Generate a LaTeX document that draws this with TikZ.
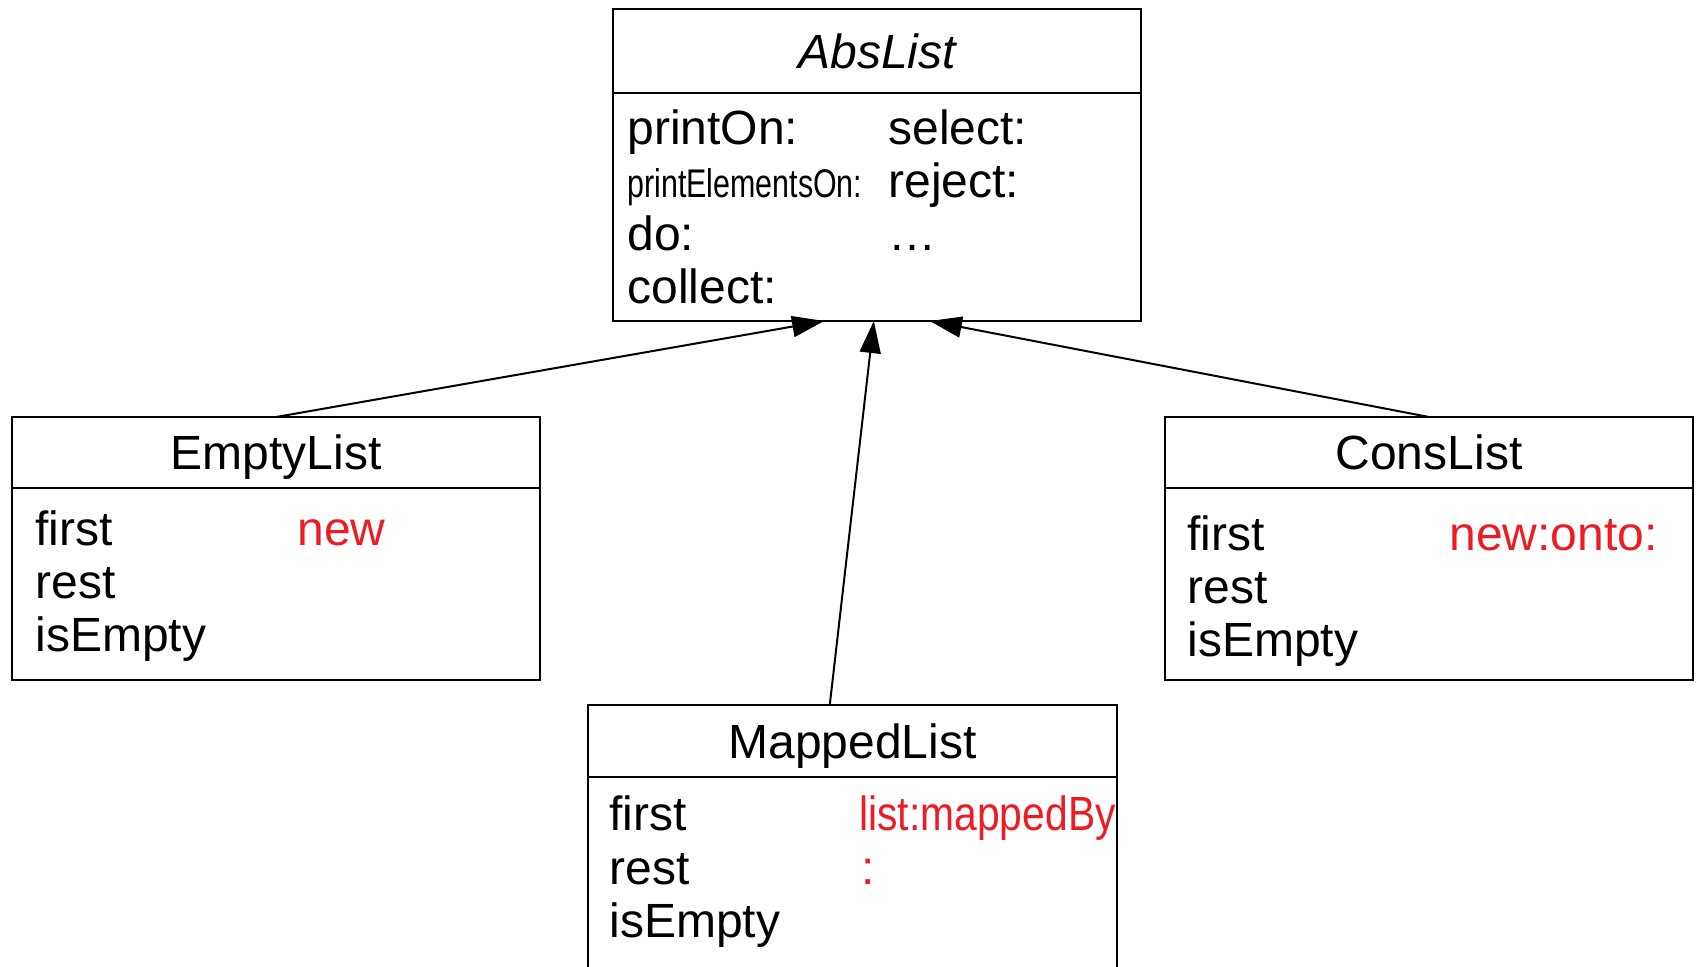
\documentclass[tikz,border=0pt]{standalone}
\usepackage{fontspec}
\setmainfont{Liberation Sans}
\usepackage{graphicx}
\usetikzlibrary{arrows.meta, positioning, calc}
\definecolor{mainBlack}{gray}{0}
\definecolor{ctorRed}{RGB}{237,28,36}

\begin{document}
\begin{tikzpicture}[x=0.5pt, y=-0.5pt, >={Triangle[length=16pt, width=10.5pt]},
    classHead/.style={draw=mainBlack, line width=1.1pt, inner sep=0pt, outer sep=0pt,
        text height=17.2pt, text depth=0pt, font=\fontsize{24}{26.5}\selectfont},
    classBody/.style={draw=mainBlack, line width=1.1pt, inner sep=0pt, outer sep=0pt},
    member/.style={anchor=base west, inner sep=0pt, font=\fontsize{24}{26.5}\selectfont},
    ctor/.style={member, text=ctorRed},
    inherit/.style={->, line width=1pt, mainBlack}]
    \useasboundingbox (0,0) rectangle (1698,966);

    % abstract superclass
    \node[classHead, minimum width=264pt, minimum height=42pt] (absHead) at (877,51) {\itshape AbsList};
    \node[classBody, minimum width=264pt, minimum height=114pt, below=0pt of absHead] (absBody) {};
    \node[member] (absPrintOn) at (627,144) {printOn:};
    \node[member, font=\fontsize{20}{22}\selectfont] (absPrintElems) at (627,197) {\scalebox{0.76}[1]{printElementsOn:}};
    \node[member] (absDo) at (627,250) {do:};
    \node[member] (absCollect) at (627,303) {collect:};
    \node[member] (absSelect) at (888,144) {select:};
    \node[member] (absReject) at (888,197) {reject:};
    \node[member] (absMore) at (888,250) {\ldots};

    % empty list
    \node[classHead, minimum width=264pt, minimum height=35.5pt] (emptyHead) at (276,452.5) {EmptyList};
    \node[classBody, minimum width=264pt, minimum height=96pt, below=0pt of emptyHead] (emptyBody) {};
    \node[member] (emptyFirst) at (35,545) {first};
    \node[member] (emptyRest) at (35,598) {rest};
    \node[member] (emptyIsEmpty) at (35,651) {isEmpty};
    \node[ctor] (emptyNew) at (297,545) {new};

    % cons list
    \node[classHead, minimum width=264pt, minimum height=35.5pt] (consHead) at (1429,452.5) {ConsList};
    \node[classBody, minimum width=264pt, minimum height=96pt, below=0pt of consHead] (consBody) {};
    \node[member] (consFirst) at (1187,550) {first};
    \node[member] (consRest) at (1187,603) {rest};
    \node[member] (consIsEmpty) at (1187,656) {isEmpty};
    \node[ctor] (consNew) at (1449,550) {new:onto:};

    % mapped list
    \node[classHead, minimum width=264.5pt, minimum height=36pt] (mappedHead) at (852.5,741) {MappedList};
    \node[classBody, minimum width=264.5pt, minimum height=120pt, below=0pt of mappedHead] (mappedBody) {};
    \node[member] (mappedFirst) at (609,830) {first};
    \node[member] (mappedRest) at (609,884) {rest};
    \node[member] (mappedIsEmpty) at (609,937) {isEmpty};
    \node[ctor] (mappedNew) at (859,830) {\scalebox{0.85}[1]{list:mappedBy}};
    \node[ctor] (mappedNewCont) at (861,884) {:};

    % inheritance
    \draw[inherit] (emptyHead.north) -- ($(absBody.south west)!0.4!(absBody.south east)$);
    \draw[inherit] ($(mappedHead.north west)!0.457!(mappedHead.north east)$) -- ($(absBody.south west)!0.494!(absBody.south east)$);
    \draw[inherit] (consHead.north) -- ($(absBody.south west)!0.6!(absBody.south east)$);
\end{tikzpicture}
\end{document}
